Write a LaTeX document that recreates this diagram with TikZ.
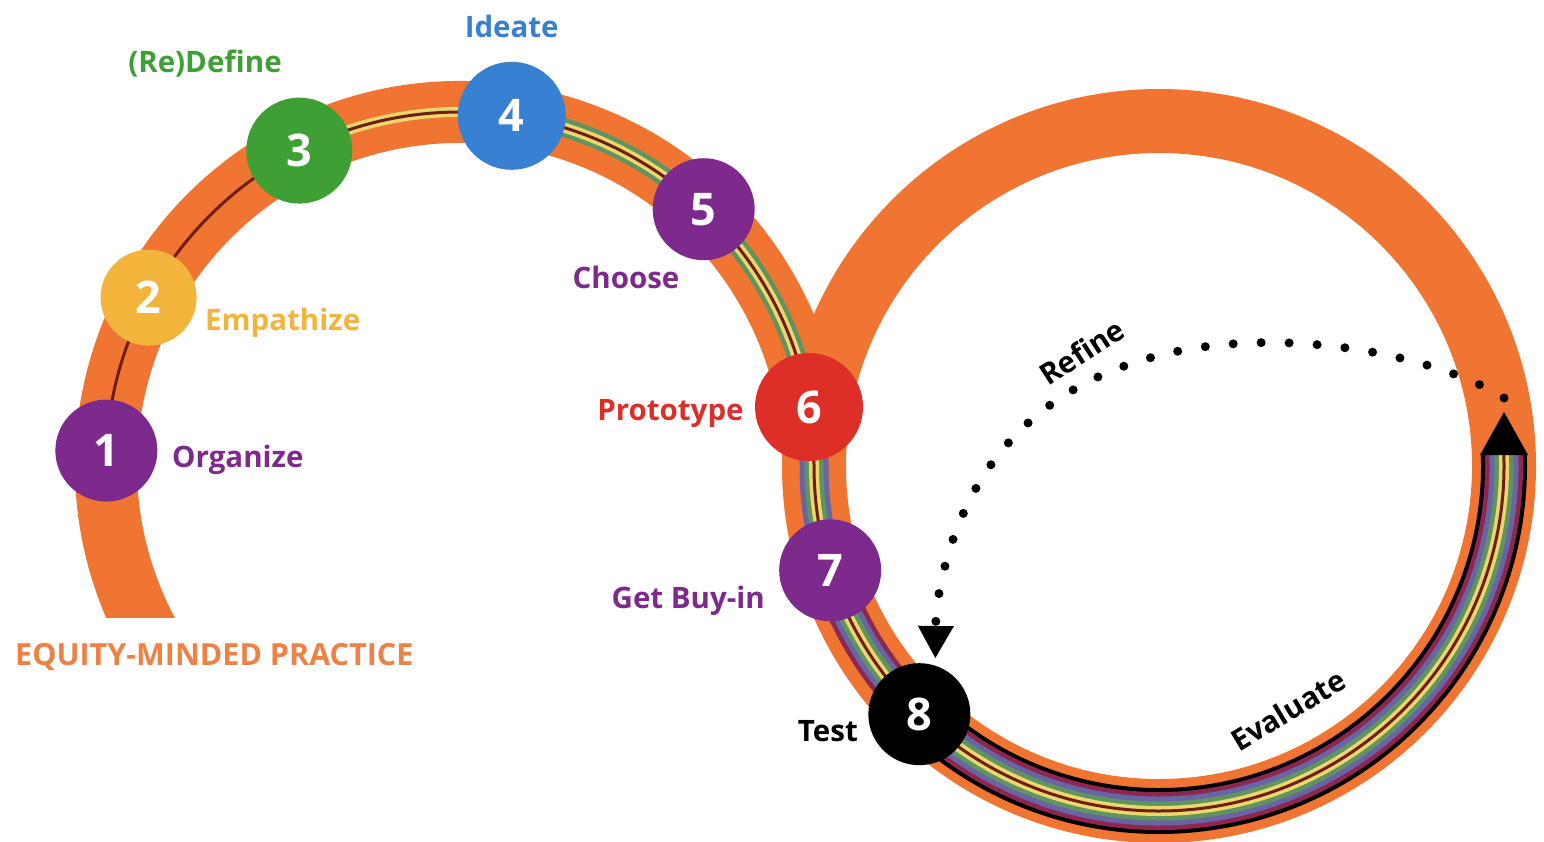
\documentclass[tikz,border=0pt]{standalone}
\usepackage{fontspec}
\setmainfont{Open Sans}
\usetikzlibrary{positioning,calc,arrows.meta}

\definecolor{ringorange}{RGB}{240,117,51}
\definecolor{textorange}{RGB}{238,130,70}
\definecolor{purp}{RGB}{125,42,140}
\definecolor{gold}{RGB}{243,180,60}
\definecolor{leaf}{RGB}{62,160,52}
\definecolor{sky}{RGB}{55,128,210}
\definecolor{redstage}{RGB}{222,46,40}
\definecolor{stripemaroon}{RGB}{140,40,80}
\definecolor{stripeslate}{RGB}{105,100,165}
\definecolor{stripegreen}{RGB}{95,148,95}
\definecolor{stripeyellow}{RGB}{236,214,110}
\definecolor{stripedark}{RGB}{110,30,20}

\newcommand{\numfont}{\bfseries\fontsize{45}{48}\selectfont}
\newcommand{\lblfont}{\bfseries\fontsize{29.5}{33}\selectfont}

\begin{document}
\begin{tikzpicture}[x=1pt, y=-1pt,
	stage/.style={circle, minimum size=102pt, inner sep=0pt, text=white, font=\numfont},
	lbl/.style={font=\lblfont, inner sep=0pt},
	refine/.style={line width=9pt, line cap=round, dash pattern=on 0pt off 28pt,
		-{Triangle[width=36pt, length=32pt, line width=0pt]}}]
	\useasboundingbox (0,0) rectangle (1544,841);
	\coordinate (L) at (460,466);
	\coordinate (R) at (1159,466);

	% orange track
	\draw[ringorange, line width=64] (R) circle[radius=345];
	\begin{scope}
		\clip (0,0) rectangle (1544,617);
		\draw[ringorange, line width=62] ($(L)+(150:354)$) arc[start angle=150, end angle=360, radius=354];
	\end{scope}

	% stripes, widest first
	\foreach \wd/\col/\ang in {46/black/134, 38/stripemaroon/162.4}
		\draw[\col, line width=\wd] ($(R)+(\ang:345)$) arc[start angle=\ang, end angle=-2, radius=345];
	\foreach \wd/\col/\ang in {29/stripeslate/350.4, 19/stripegreen/278.4, 10/stripeyellow/243, 3/stripedark/182.5}
		\draw[\col, line width=\wd] ($(L)+(\ang:354)$) arc[start angle=\ang, end angle=360, radius=354]
			arc[start angle=180, end angle=-2, radius=345];
	\fill (1480,455) -- (1528,455) -- (1504,412) -- cycle;

	% stages
	\node[stage, fill=purp] (n1) at ($(L)+(182.5:354)$) {1};
	\node[stage, fill=gold, minimum size=96pt] (n2) at ($(L)+(208.4:354)$) {2};
	\node[stage, fill=leaf, minimum size=106pt] (n3) at ($(L)+(243:354)$) {3};
	\node[stage, fill=sky, minimum size=108pt] (n4) at ($(L)+(278.4:354)$) {4};
	\node[stage, fill=purp] (n5) at ($(L)+(313.5:354)$) {5};
	\node[stage, fill=redstage, minimum size=108pt] (n6) at ($(L)+(350.4:354)$) {6};
	\node[stage, fill=purp] (n7) at ($(R)+(162.4:345)$) {7};
	\node[stage, fill=black] (n8) at ($(R)+(134:345)$) {8};

	% labels
	\node[lbl, text=purp, anchor=west] at (172,460) {Organize};
	\node[lbl, text=gold, anchor=west] at (205,323) {Empathize};
	\node[lbl, text=leaf] at (205,64) {(Re)Define};
	\node[lbl, text=sky, above=24pt of n4] {Ideate};
	\node[lbl, text=purp] at (626,277) {Choose};
	\node[lbl, text=redstage, left=11pt of n6, yshift=-7pt] {Prototype};
	\node[lbl, text=purp, anchor=east] at (765,601) {Get Buy-in};
	\node[lbl, anchor=east] at (858,731) {Test};
	\node[lbl, text=textorange, anchor=west, font=\bfseries\fontsize{30.5}{34}\selectfont] at (15,657) {EQUITY-MINDED PRACTICE};
	\node[lbl, rotate=33] at (1082,352) {Refine};
	\node[lbl, rotate=31] at (1288,710) {Evaluate};

	% refine loop
	\coordinate (rs) at (1504,398);
	\draw[refine] (rs) .. controls (1400,330) and (985,260) .. (936,612)
		-- ([xshift=16pt, yshift=5pt]n8.north);
\end{tikzpicture}
\end{document}
